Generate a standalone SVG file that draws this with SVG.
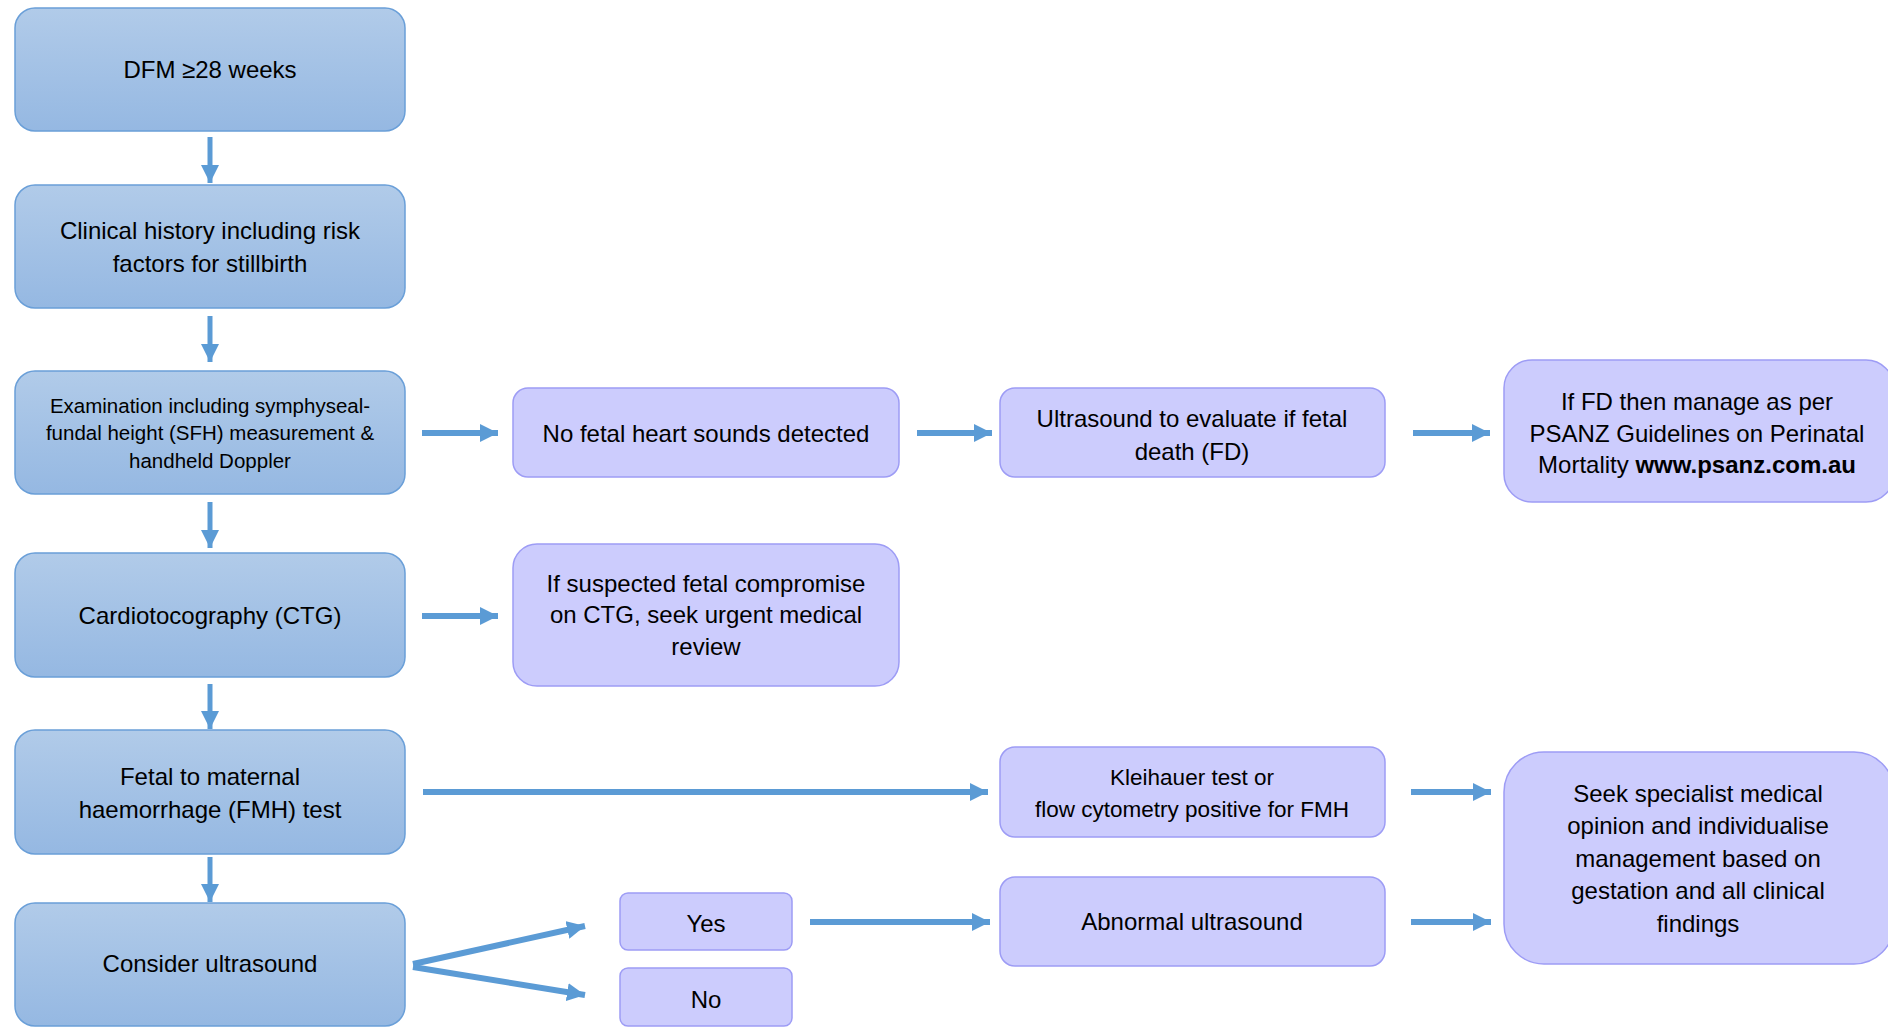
<svg xmlns="http://www.w3.org/2000/svg" width="1888" height="1027" viewBox="0 0 1888 1027">
<style>
.lb{fill:url(#blueGrad);stroke:#6a9fd8;stroke-width:1.5}
.pb{fill:#ccccfd;stroke:#9d9cf5;stroke-width:1.5}
text{font-family:"Liberation Sans",Arial,sans-serif;font-size:24px;fill:#000;text-anchor:middle}
.sm{font-size:20.5px}
.k{font-size:22.5px}
.c{fill:none;stroke:#5b9bd5;stroke-width:6}
.v{fill:none;stroke:#5b9bd5;stroke-width:5}
</style>
<defs>
<linearGradient id="blueGrad" x1="0" y1="0" x2="0" y2="1">
<stop offset="0" stop-color="#b1cbe9"/>
<stop offset="1" stop-color="#95b8e2"/>
</linearGradient>
<marker id="ah" markerUnits="userSpaceOnUse" viewBox="0 0 18 18" refX="18" refY="9" markerWidth="18" markerHeight="18" orient="auto">
<path d="M0,0 L18,9 L0,18 Z" fill="#5b9bd5"/>
</marker>
</defs>
<rect width="1888" height="1027" fill="#fff"/>
<g id="connectors">
<line class="v" x1="210" y1="137" x2="210" y2="183" marker-end="url(#ah)"/>
<line class="v" x1="210" y1="316" x2="210" y2="362" marker-end="url(#ah)"/>
<line class="v" x1="210" y1="502" x2="210" y2="548" marker-end="url(#ah)"/>
<line class="v" x1="210" y1="684" x2="210" y2="729" marker-end="url(#ah)"/>
<line class="v" x1="210" y1="857" x2="210" y2="902" marker-end="url(#ah)"/>
<line class="c" x1="422" y1="433" x2="498" y2="433" marker-end="url(#ah)"/>
<line class="c" x1="917" y1="433" x2="992" y2="433" marker-end="url(#ah)"/>
<line class="c" x1="1413" y1="433" x2="1490" y2="433" marker-end="url(#ah)"/>
<line class="c" x1="422" y1="616" x2="498" y2="616" marker-end="url(#ah)"/>
<line class="c" x1="423" y1="792" x2="988" y2="792" marker-end="url(#ah)"/>
<line class="c" x1="1411" y1="792" x2="1491" y2="792" marker-end="url(#ah)"/>
<line class="c" x1="413" y1="964" x2="585" y2="926" marker-end="url(#ah)"/>
<line class="c" x1="413" y1="967" x2="585" y2="995" marker-end="url(#ah)"/>
<line class="c" x1="810" y1="922" x2="990" y2="922" marker-end="url(#ah)"/>
<line class="c" x1="1411" y1="922" x2="1491" y2="922" marker-end="url(#ah)"/>
</g>
<g id="n1"><rect class="lb" x="15" y="8" width="390" height="123" rx="20"/><text x="210" y="78">DFM ≥28 weeks</text></g>
<g id="n2"><rect class="lb" x="15" y="185" width="390" height="123" rx="20"/><text x="210" y="239">Clinical history including risk</text><text x="210" y="272">factors for stillbirth</text></g>
<g id="n3"><rect class="lb" x="15" y="371" width="390" height="123" rx="20"/><text class="sm" x="210" y="413">Examination including symphyseal-</text><text class="sm" x="210" y="440">fundal height (SFH) measurement &amp;</text><text class="sm" x="210" y="468">handheld Doppler</text></g>
<g id="n4"><rect class="lb" x="15" y="553" width="390" height="124" rx="20"/><text x="210" y="624">Cardiotocography (CTG)</text></g>
<g id="n5"><rect class="lb" x="15" y="730" width="390" height="124" rx="20"/><text x="210" y="785">Fetal to maternal</text><text x="210" y="818">haemorrhage (FMH) test</text></g>
<g id="n6"><rect class="lb" x="15" y="903" width="390" height="123" rx="20"/><text x="210" y="972">Consider ultrasound</text></g>
<g id="n7"><rect class="pb" x="513" y="388" width="386" height="89" rx="15"/><text x="706" y="442">No fetal heart sounds detected</text></g>
<g id="n8"><rect class="pb" x="1000" y="388" width="385" height="89" rx="15"/><text x="1192" y="427">Ultrasound to evaluate if fetal</text><text x="1192" y="460">death (FD)</text></g>
<g id="n9"><rect class="pb" x="1504" y="360" width="390" height="142" rx="28"/><text x="1697" y="410">If FD then manage as per</text><text x="1697" y="442">PSANZ Guidelines on Perinatal</text><text x="1697" y="473">Mortality <tspan font-weight="bold">www.psanz.com.au</tspan></text></g>
<g id="n10"><rect class="pb" x="513" y="544" width="386" height="142" rx="24"/><text x="706" y="592">If suspected fetal compromise</text><text x="706" y="623">on CTG, seek urgent medical</text><text x="706" y="655">review</text></g>
<g id="n11"><rect class="pb" x="1000" y="747" width="385" height="90" rx="15"/><text class="k" x="1192" y="785">Kleihauer test or</text><text class="k" x="1192" y="817">flow cytometry positive for FMH</text></g>
<g id="n12"><rect class="pb" x="1000" y="877" width="385" height="89" rx="15"/><text x="1192" y="930">Abnormal ultrasound</text></g>
<g id="n13"><rect class="pb" x="1504" y="752" width="390" height="212" rx="40"/><text x="1698" y="802">Seek specialist medical</text><text x="1698" y="834">opinion and individualise</text><text x="1698" y="867">management based on</text><text x="1698" y="899">gestation and all clinical</text><text x="1698" y="932">findings</text></g>
<g id="n14"><rect class="pb" x="620" y="893" width="172" height="57" rx="8"/><text x="706" y="932">Yes</text></g>
<g id="n15"><rect class="pb" x="620" y="968" width="172" height="58" rx="8"/><text x="706" y="1008">No</text></g>
</svg>
